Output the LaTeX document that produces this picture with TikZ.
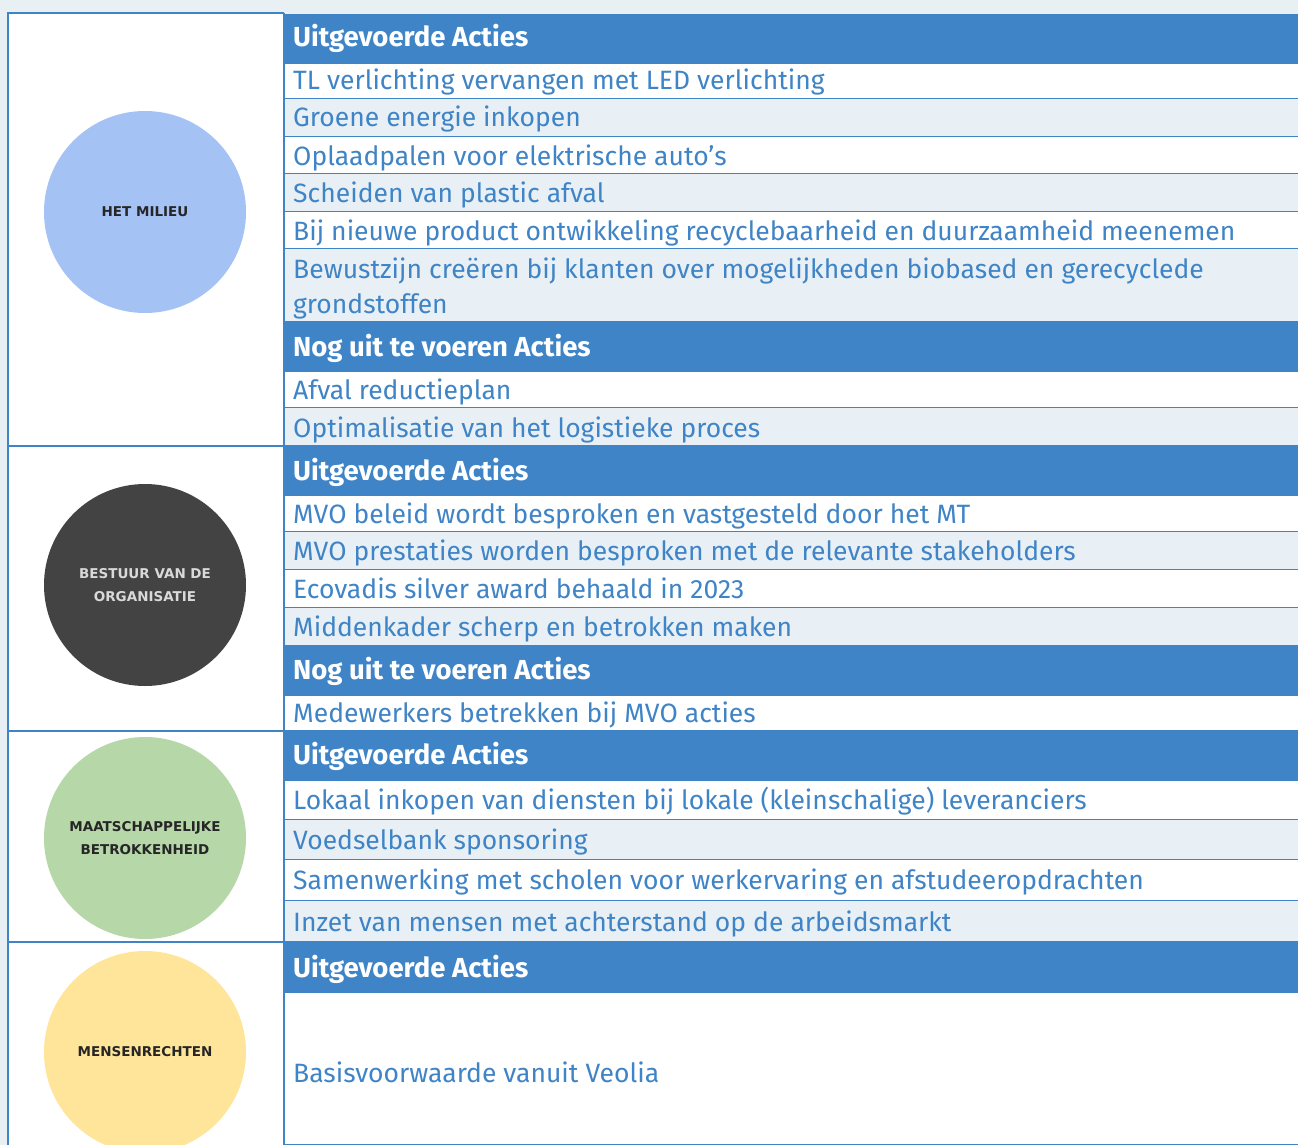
\documentclass[tikz,border=0pt]{standalone}
\usepackage{fontspec}
\setmainfont{Fira Sans}
\newfontfamily\bolfont{DejaVu Sans}
\definecolor{kop}{HTML}{3F84C6}
\definecolor{lichtblauw}{HTML}{E8F0F5}
\definecolor{achter}{HTML}{E9F0F4}
\definecolor{cmilieu}{HTML}{A4C2F4}
\definecolor{cbestuur}{HTML}{434343}
\definecolor{cmaat}{HTML}{B6D7A8}
\definecolor{cmens}{HTML}{FFE599}
\tikzset{
  hdr/.style={fill=kop},
  wit/.style={fill=white},
  licht/.style={fill=lichtblauw},
  hdrtxt/.style={text=white,font=\fontsize{27.5}{35}\selectfont\bfseries},
  wittxt/.style={text=kop,font=\fontsize{26.5}{35}\selectfont},
  lichttxt/.style={wittxt},
  bol/.style={circle,minimum size=202pt,inner sep=0pt,align=center,
    font=\bolfont\fontsize{13.5}{23}\selectfont\bfseries}
}
\begin{document}
\begin{tikzpicture}[x=1pt,y=-1pt]
\clip (0,0) rectangle (1298,1145);
\fill[achter] (0,0) rectangle (1298,1145);
\fill[white] (8,13) rectangle (284,1145);
\foreach \t/\b/\s/\ty/\txt [count=\i] in {
  14/64/hdr/47/Uitgevoerde Acties,
  64/99/wit/90/TL verlichting vervangen met LED verlichting,
  99/137/licht/127/Groene energie inkopen,
  137/174/wit/165/Oplaadpalen voor elektrische auto’s,
  174/212/licht/202/Scheiden van plastic afval,
  212/249/wit/240/Bij nieuwe product ontwikkeling recyclebaarheid en duurzaamheid meenemen,
  249/322/licht/313/{Bewustzijn creëren bij klanten over mogelijkheden biobased en gerecyclede\\grondstoffen},
  322/372/hdr/356/Nog uit te voeren Acties,
  372/408/wit/399/Afval reductieplan,
  408/446/licht/437/Optimalisatie van het logistieke proces,
  446/496/hdr/480/Uitgevoerde Acties,
  496/532/wit/523/MVO beleid wordt besproken en vastgesteld door het MT,
  532/570/licht/560/MVO prestaties worden besproken met de relevante stakeholders,
  570/608/wit/598/Ecovadis silver award behaald in 2023,
  608/646/licht/636/Middenkader scherp en betrokken maken,
  646/696/hdr/679/Nog uit te voeren Acties,
  696/731/wit/722/Medewerkers betrekken bij MVO acties,
  731/781/hdr/764/Uitgevoerde Acties,
  781/820/wit/809/Lokaal inkopen van diensten bij lokale (kleinschalige) leveranciers,
  820/860/licht/849/Voedselbank sponsoring,
  860/901/wit/889/Samenwerking met scholen voor werkervaring en afstudeeropdrachten,
  901/942/licht/931/Inzet van mensen met achterstand op de arbeidsmarkt,
  942/993/hdr/977/Uitgevoerde Acties,
  993/1145/wit/1082/Basisvoorwaarde vanuit Veolia}
{
  \fill[\s] (284,\t) rectangle (1298,\b);
  \draw[kop,line width=1.5pt] (284,\b) -- (1298,\b);
  \node[\s txt,anchor=base west,inner sep=0pt,align=left] (r\i) at (293,\ty) {\txt};
}
\draw[kop,line width=1.5pt] (284,13) -- (8,13) -- (8,1145);
\draw[kop,line width=2pt] (284,13) -- (284,1145);
\foreach \y in {446,731,942}
  \draw[kop,line width=1.5pt] (8,\y) -- (284,\y);
\node[bol,fill=cmilieu,text=black!85] (milieu) at (145,212) {HET MILIEU};
\node[bol,fill=cbestuur,text=black!15] (bestuur) at (145,585) {BESTUUR VAN DE\\ORGANISATIE};
\node[bol,fill=cmaat,text=black!85] (maatschappij) at (145,838) {MAATSCHAPPELIJKE\\BETROKKENHEID};
\node[bol,fill=cmens,text=black!85] (mensen) at (145,1052) {MENSENRECHTEN};
\end{tikzpicture}
\end{document}
